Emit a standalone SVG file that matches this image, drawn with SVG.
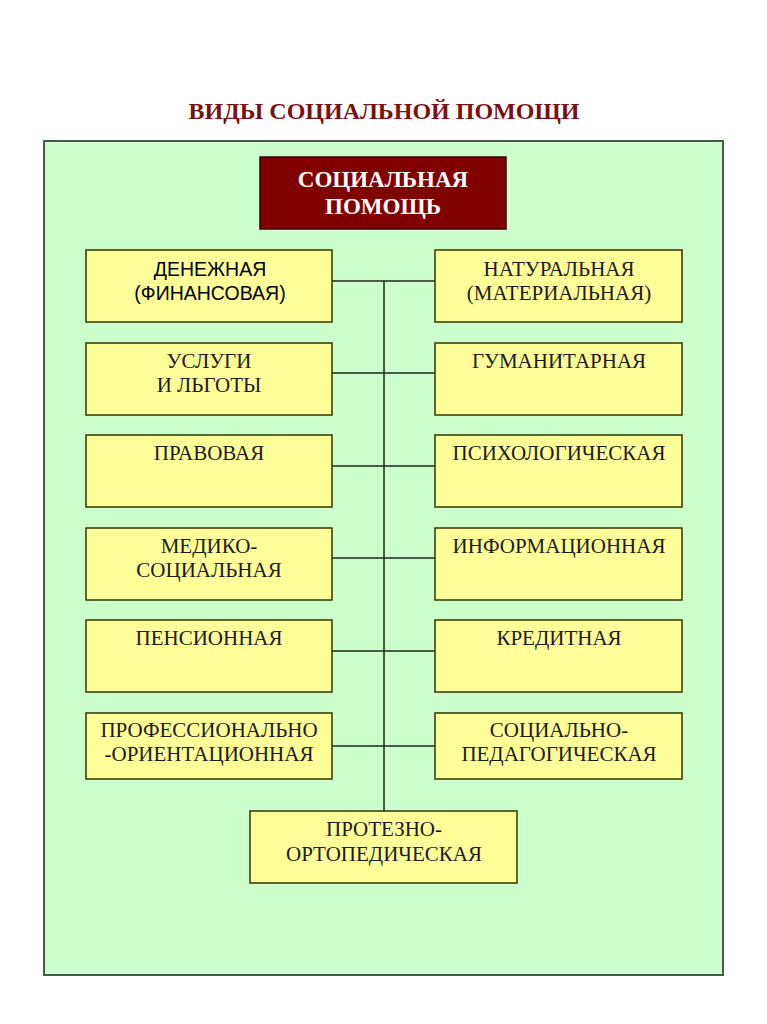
<svg xmlns="http://www.w3.org/2000/svg" width="767" height="1024" viewBox="0 0 767 1024">
<style>
.box{fill:#ffff99;stroke:#333300;stroke-width:1.5}
.t{font-family:"Liberation Serif","Times New Roman",serif;font-size:21px;fill:#1a1a1a;text-anchor:middle}
.s{font-family:"Liberation Sans",Arial,sans-serif;font-size:19.5px;fill:#000;text-anchor:middle}
.c{stroke:#1a2a1a;stroke-width:1.5;fill:none}
.h{font-family:"Liberation Serif","Times New Roman",serif;font-weight:bold;text-anchor:middle}
</style>
<rect width="767" height="1024" fill="#ffffff"/>
<text class="h" x="384" y="119" font-size="24" fill="#7a1010">ВИДЫ СОЦИАЛЬНОЙ ПОМОЩИ</text>
<rect x="44" y="141" width="679" height="834" fill="#ccffcc" stroke="#4a5a4a" stroke-width="2"/>
<g id="connectors">
<line class="c" x1="384" y1="281" x2="384" y2="811"/>
<line class="c" x1="332" y1="281" x2="435" y2="281"/>
<line class="c" x1="332" y1="373" x2="435" y2="373"/>
<line class="c" x1="332" y1="466" x2="435" y2="466"/>
<line class="c" x1="332" y1="558" x2="435" y2="558"/>
<line class="c" x1="332" y1="651" x2="435" y2="651"/>
<line class="c" x1="332" y1="746" x2="435" y2="746"/>
</g>
<g id="root">
<rect x="260" y="157" width="246" height="72" fill="#800000" stroke="#330000" stroke-width="1.5"/>
<text class="h" x="383" y="187" font-size="23" fill="#ffffff">СОЦИАЛЬНАЯ</text>
<text class="h" x="383" y="214" font-size="23" fill="#ffffff">ПОМОЩЬ</text>
</g>
<g id="n1"><rect class="box" x="86" y="250" width="246" height="72"/><text class="s" x="210" y="276">ДЕНЕЖНАЯ</text><text class="s" x="210" y="300">(ФИНАНСОВАЯ)</text></g>
<g id="n2"><rect class="box" x="435" y="250" width="247" height="72"/><text class="t" x="559" y="276">НАТУРАЛЬНАЯ</text><text class="t" x="559" y="300">(МАТЕРИАЛЬНАЯ)</text></g>
<g id="n3"><rect class="box" x="86" y="343" width="246" height="72"/><text class="t" x="209" y="368">УСЛУГИ</text><text class="t" x="209" y="392">И ЛЬГОТЫ</text></g>
<g id="n4"><rect class="box" x="435" y="343" width="247" height="72"/><text class="t" x="559" y="368">ГУМАНИТАРНАЯ</text></g>
<g id="n5"><rect class="box" x="86" y="435" width="246" height="72"/><text class="t" x="209" y="460">ПРАВОВАЯ</text></g>
<g id="n6"><rect class="box" x="435" y="435" width="247" height="72"/><text class="t" x="559" y="460">ПСИХОЛОГИЧЕСКАЯ</text></g>
<g id="n7"><rect class="box" x="86" y="528" width="246" height="72"/><text class="t" x="209" y="553">МЕДИКО-</text><text class="t" x="209" y="577">СОЦИАЛЬНАЯ</text></g>
<g id="n8"><rect class="box" x="435" y="528" width="247" height="72"/><text class="t" x="559" y="553">ИНФОРМАЦИОННАЯ</text></g>
<g id="n9"><rect class="box" x="86" y="620" width="246" height="72"/><text class="t" x="209" y="645">ПЕНСИОННАЯ</text></g>
<g id="n10"><rect class="box" x="435" y="620" width="247" height="72"/><text class="t" x="559" y="645">КРЕДИТНАЯ</text></g>
<g id="n11"><rect class="box" x="86" y="713" width="246" height="66"/><text class="t" x="209" y="737">ПРОФЕССИОНАЛЬНО</text><text class="t" x="209" y="761">-ОРИЕНТАЦИОННАЯ</text></g>
<g id="n12"><rect class="box" x="435" y="713" width="247" height="66"/><text class="t" x="559" y="737">СОЦИАЛЬНО-</text><text class="t" x="559" y="761">ПЕДАГОГИЧЕСКАЯ</text></g>
<g id="n13"><rect class="box" x="250" y="811" width="267" height="72"/><text class="t" x="384" y="836">ПРОТЕЗНО-</text><text class="t" x="384" y="861">ОРТОПЕДИЧЕСКАЯ</text></g>
</svg>
